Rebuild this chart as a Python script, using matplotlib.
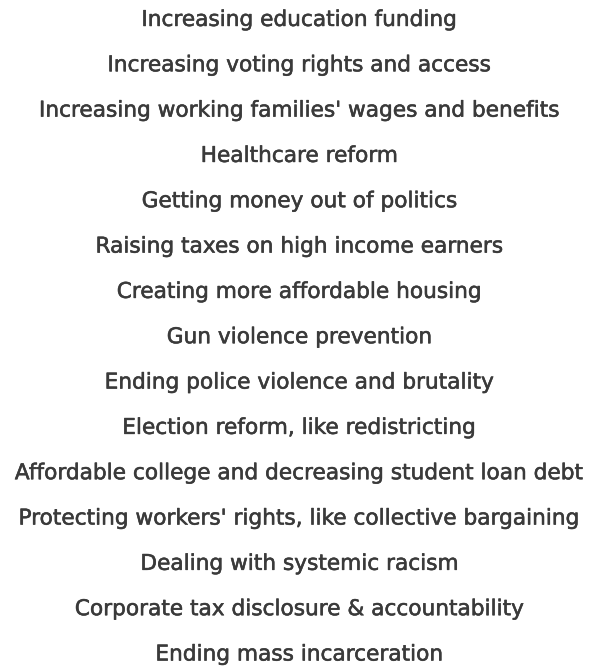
import matplotlib
matplotlib.use('Agg')
import matplotlib.pyplot as plt
import matplotlib.patheffects as pe

# issues, top to bottom as listed
issues = [
    "Increasing education funding",
    "Increasing voting rights and access",
    "Increasing working families' wages and benefits",
    "Healthcare reform",
    "Getting money out of politics",
    "Raising taxes on high income earners",
    "Creating more affordable housing",
    "Gun violence prevention",
    "Ending police violence and brutality",
    "Election reform, like redistricting",
    "Affordable college and decreasing student loan debt",
    "Protecting workers' rights, like collective bargaining",
    "Dealing with systemic racism",
    "Corporate tax disclosure & accountability",
    "Ending mass incarceration",
]

fig = plt.figure(figsize=(5.99, 6.69), dpi=100)
ax = fig.add_axes([0, 0, 1, 1])
ax.set_xlim(0, 1)
ax.set_ylim(len(issues) - 1 + 0.32, -0.44)
ax.axis('off')

for i, label in enumerate(issues):
    ax.text(0.5, i, label, ha='center', va='center', fontsize=15.6,
            family='DejaVu Sans', color='#3a3a3a',
            path_effects=[pe.withStroke(linewidth=0.4, foreground='#3a3a3a')])

fig.savefig('out.png', dpi=100, facecolor='white')
